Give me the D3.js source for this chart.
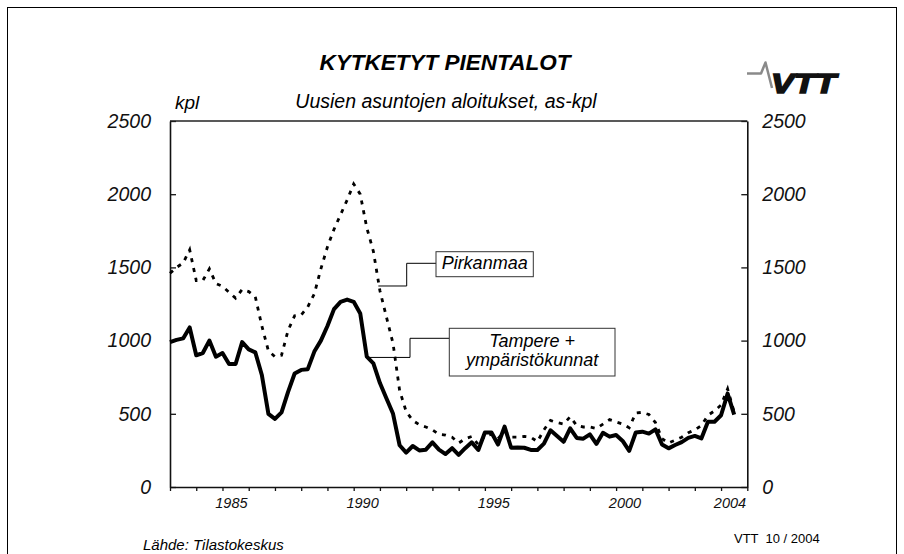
<!DOCTYPE html>
<html>
<head>
<meta charset="utf-8">
<script src="https://cdn.jsdelivr.net/npm/d3@7"></script>
<style>
  body { margin: 0; background: #fff; }
  svg { font-family: "Liberation Sans", Arial, sans-serif; }
</style>
</head>
<body>
<svg id="chart" width="904" height="554"></svg>
<script>
// quarterly starts, 1983 Q1 .. 2004 Q3
const startYear = 1983
const tampere = [
  990, 1005, 1015, 1090, 900, 915, 1000, 890, 915, 840, 840, 990, 940, 920, 765, 500,
  465, 510, 650, 775, 800, 805, 925, 1000, 1100, 1215, 1265, 1280, 1265, 1185, 890, 845,
  710, 605, 500, 285, 235, 280, 250, 255, 305, 255, 225, 265, 220, 265, 305, 253,
  372, 372, 290, 412, 268, 270, 268, 253, 253, 296, 387, 348, 309, 401, 335, 330,
  360, 294, 370, 344, 355, 315, 247, 372, 378, 365, 394, 290, 264, 287, 307, 336,
  349, 332, 446, 446, 490, 638, 495
]
const pirkanmaa = [
  1460, 1500, 1530, 1620, 1410, 1410, 1490, 1390, 1370, 1330, 1290, 1350, 1335, 1300, 1100, 930,
  890, 900, 1070, 1170, 1175, 1230, 1320, 1490, 1640, 1760, 1860, 1960, 2070, 2000, 1770, 1610,
  1340, 1160, 980, 660, 515, 455, 425, 410, 390, 360, 355, 340, 300, 330, 345, 290,
  350, 360, 330, 380, 340, 340, 345, 340, 310, 390, 455, 440, 430, 480, 420, 410,
  410, 400, 430, 460, 445, 430, 405, 505, 510, 495, 440, 330, 300, 320, 340, 370,
  390, 420, 490, 520, 560, 670, 510
]
const yTicks = [0, 500, 1000, 1500, 2000, 2500]
const yearTicks = d3.range(1983, 2006)
const xLabels = [1985, 1990, 1995, 2000, 2004]

const width = 904
const height = 554
const plotL = 170, plotR = 747.3, plotT = 121, plotB = 487

const svg = d3.select("#chart")

// outer frame
svg.append("rect")
  .attr("x", 7.5).attr("y", 7.5)
  .attr("width", 889).attr("height", 570)
  .attr("fill", "none").attr("stroke", "#000").attr("stroke-width", 1)

const x = d3.scaleLinear().domain([1983, 2005]).range([plotL, plotR])
const y = d3.scaleLinear().domain([0, 2500]).range([plotB, plotT])

const axisStyle = g => {
  g.select(".domain").attr("stroke", "#111").attr("stroke-width", 1.6)
  g.selectAll(".tick line").attr("stroke", "#111").attr("stroke-width", 1.3)
  g.selectAll("text").attr("font-style", "italic").attr("fill", "#111")
}

svg.append("g")
  .attr("transform", `translate(${plotL},0)`)
  .call(d3.axisLeft(y).tickValues(yTicks).tickFormat(d3.format("d"))
    .tickSize(-6).tickSizeOuter(0).tickPadding(19))
  .call(axisStyle)
  .selectAll("text").attr("font-size", 19.5)

svg.append("g")
  .attr("transform", `translate(${plotR},0)`)
  .call(d3.axisRight(y).tickValues(yTicks).tickFormat(d3.format("d"))
    .tickSize(-6).tickSizeOuter(0).tickPadding(15))
  .call(axisStyle)
  .selectAll("text").attr("font-size", 19.5)

svg.append("g")
  .attr("transform", `translate(0,${plotB})`)
  .call(d3.axisBottom(x).tickValues(yearTicks).tickSize(4).tickSizeOuter(0).tickFormat(""))
  .call(axisStyle)

svg.append("g")
  .attr("transform", `translate(0,${plotB})`)
  .call(d3.axisBottom(x).tickValues(xLabels.map(v => v + 0.32)).tickSize(0).tickPadding(10.5)
    .tickFormat(d => Math.floor(d)))
  .call(g => g.select(".domain").remove())
  .call(axisStyle)
  .selectAll("text").attr("font-size", 14.5)

// top border of plot
svg.append("line")
  .attr("x1", plotL).attr("x2", plotR).attr("y1", plotT).attr("y2", plotT)
  .attr("stroke", "#222").attr("stroke-width", 1.4)

const line = d3.line()
  .x((d, i) => x(startYear + i / 4))
  .y(d => y(d))

svg.append("path")
  .datum(pirkanmaa)
  .attr("d", line)
  .attr("fill", "none")
  .attr("stroke", "#000")
  .attr("stroke-width", 2.8)
  .attr("stroke-dasharray", "4,6")

svg.append("path")
  .datum(tampere)
  .attr("d", line)
  .attr("fill", "none")
  .attr("stroke", "#000")
  .attr("stroke-width", 4)
  .attr("stroke-linejoin", "round")

// callouts: anchor in data units, box in px
function callout(ax, ay, stepX, boxX, boxY, boxW, boxH, joinY, lines){
  const px = x(ax), py = y(ay)
  svg.append("path")
    .attr("d", `M${px},${py}H${stepX}V${joinY}H${boxX}`)
    .attr("fill", "none").attr("stroke", "#000").attr("stroke-width", 1)
  svg.append("rect")
    .attr("x", boxX).attr("y", boxY).attr("width", boxW).attr("height", boxH)
    .attr("fill", "#fff").attr("stroke", "#333").attr("stroke-width", 1)
  lines.forEach((t, i) => {
    svg.append("text")
      .attr("x", boxX + boxW / 2)
      .attr("y", boxY + 17 + i * 19 + (lines.length == 1 ? 0 : 2))
      .attr("text-anchor", "middle")
      .attr("font-size", 18).attr("font-style", "italic")
      .text(t)
  })
}
callout(1990.94, 1373, 406.7, 436, 251.7, 97.3, 25, 263.3, ["Pirkanmaa"])
callout(1990.5, 885, 410, 449.3, 328.3, 165.7, 47.7, 338.3, ["Tampere +", "ympäristökunnat"])

// titles
svg.append("text")
  .attr("x", 445).attr("y", 70)
  .attr("text-anchor", "middle")
  .attr("font-size", 22.5).attr("font-weight", "bold").attr("font-style", "italic")
  .text("KYTKETYT PIENTALOT")

svg.append("text")
  .attr("x", 446).attr("y", 108)
  .attr("text-anchor", "middle")
  .attr("font-size", 19.5).attr("font-style", "italic")
  .text("Uusien asuntojen aloitukset, as-kpl")

svg.append("text")
  .attr("x", 175).attr("y", 109)
  .attr("font-size", 19).attr("font-style", "italic")
  .text("kpl")

svg.append("text")
  .attr("x", 143).attr("y", 550)
  .attr("font-size", 15).attr("font-style", "italic")
  .text("Lähde: Tilastokeskus")

svg.append("text")
  .attr("x", 734).attr("y", 543)
  .attr("font-size", 13)
  .style("white-space", "pre")
  .text("VTT  10 / 2004")

// VTT logo
const logo = svg.append("g")
logo.append("path")
  .attr("d", "M747,73.5 L761,73.5 L765.5,62.5 L772,88")
  .attr("fill", "none").attr("stroke", "#8a8a8a").attr("stroke-width", 2.5)
  .attr("stroke-linejoin", "round")
logo.append("text")
  .attr("x", 771).attr("y", 93)
  .attr("font-size", 27).attr("font-weight", "bold").attr("font-style", "italic")
  .attr("stroke", "#111").attr("stroke-width", 1.6).attr("fill", "#111")
  .attr("textLength", 65).attr("lengthAdjust", "spacingAndGlyphs")
  .text("VTT")
</script>
</body>
</html>
